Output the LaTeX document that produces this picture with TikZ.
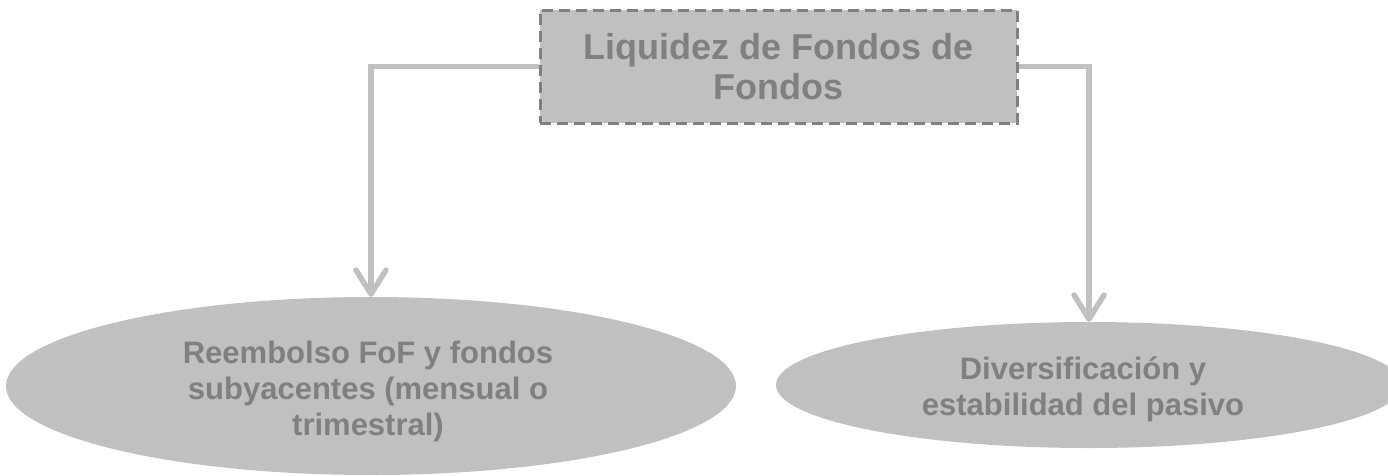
\documentclass[tikz,border=0pt]{standalone}
\usepackage{fontspec}
\setmainfont{Liberation Sans}
\usetikzlibrary{shapes.geometric,arrows.meta}
\definecolor{boxfill}{HTML}{C0C0C0}
\definecolor{txtgray}{HTML}{808080}
\definecolor{linegray}{HTML}{C0C0C0}
\tikzset{
  topbox/.style={draw=txtgray, line width=3pt, dash pattern=on 11pt off 6pt, fill=boxfill,
    minimum width=477pt, minimum height=113pt, inner sep=0pt, align=center,
    text=txtgray, font=\bfseries\fontsize{36}{40}\selectfont},
  ellnode/.style={ellipse, fill=boxfill, inner sep=0pt},
  elltext/.style={inner sep=0pt, align=center, text=txtgray,
    font=\bfseries\fontsize{31}{36}\selectfont},
  conn/.style={draw=linegray, line width=5.5pt,
    -{Straight Barb[length=24pt,width=30pt,line cap=round,line join=round]}}
}
\begin{document}
\begin{tikzpicture}[x=1pt,y=-1pt]
\useasboundingbox (0,0) rectangle (1388,475);
\node[topbox] (box) at (778.5,66.5) {Liquidez de Fondos de\\Fondos};
\node[ellnode, minimum width=730pt, minimum height=178pt] (e1) at (371,386) {};
\node[ellnode, minimum width=626pt, minimum height=126pt] (e2) at (1089,385) {};
\node[elltext] (t1) at (368,391) {Reembolso FoF y fondos\\subyacentes (mensual o\\trimestral)};
\node[elltext] (t2) at (1083,389) {Diversificación y\\estabilidad del pasivo};
\draw[conn] (box.west) -| (e1.north);
\draw[conn] (box.east) -| (e2.north);
\end{tikzpicture}
\end{document}
